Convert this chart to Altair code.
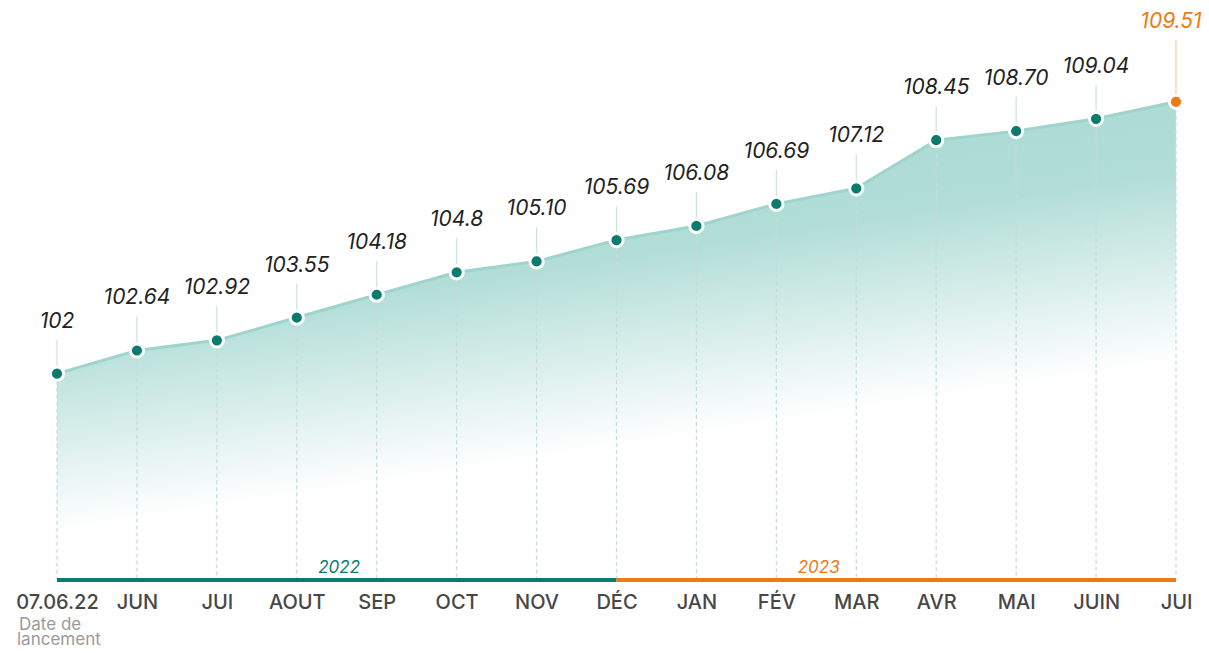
import altair as alt
import pandas as pd

months = ["07.06.22", "JUN", "JUI", "AOUT", "SEP", "OCT", "NOV", "DÉC",
          "JAN", "FÉV", "MAR", "AVR", "MAI", "JUIN", "JUI"]
values = [102, 102.64, 102.92, 103.55, 104.18, 104.8, 105.10, 105.69,
          106.08, 106.69, 107.12, 108.45, 108.70, 109.04, 109.51]
value_labels = ["102", "102.64", "102.92", "103.55", "104.18", "104.8", "105.10",
                "105.69", "106.08", "106.69", "107.12", "108.45", "108.70",
                "109.04", "109.51"]
years = ["2022", "2023"]
year_start = [0, 7]
year_end = [7, 14]
year_label_pos = [3.53, 9.53]
launch_text = ["Date de", "lancement"]

TEAL = "#0b7b6d"
ORANGE = "#ee7a14"
W, H = 1119, 562
YMIN = 96.3
YMAX = YMIN + H / 36.2

df = pd.DataFrame({
    "i": list(range(len(values))),
    "v": values,
    "lab": value_labels,
    "kind": ["past"] * (len(values) - 1) + ["latest"],
})
ydf = pd.DataFrame({"year": years, "s": year_start, "e": year_end, "p": year_label_pos})

label_js = "[" + ",".join("'" + m + "'" for m in months) + "][datum.value]"

xscale = alt.Scale(domain=[0, 14], nice=False, zero=False)
xaxis = alt.Axis(values=list(range(15)), labelExpr=label_js, title=None,
                 grid=False, ticks=False, domain=False, labelFlush=False,
                 labelOverlap=False, labelPadding=12, labelFontSize=20,
                 labelFont="Inter", labelFontWeight=500, labelColor="#474747")
x = alt.X("i:Q", scale=xscale, axis=xaxis)
y = alt.Y("v:Q", scale=alt.Scale(domain=[YMIN, YMAX], nice=False, zero=False), axis=None)

base = alt.Chart(df)

grad = alt.Gradient(
    gradient="linear", x1=0, y1=0, x2=0.357, y2=1,
    stops=[alt.GradientStop(color="#9cd3cc", offset=0),
           alt.GradientStop(color="#b3ded8", offset=0.45),
           alt.GradientStop(color="#ffffff", offset=0.8),
           alt.GradientStop(color="#ffffff", offset=1)])

area = base.mark_area(fill=grad, opacity=1).encode(x=x, y=y, y2=alt.Y2(datum=YMIN))

drops = base.mark_rule(strokeDash=[4, 3], strokeWidth=1.2, color="#c4dcd9").encode(
    x=x, y=y, y2=alt.Y2(datum=YMIN))

line = base.mark_line(color="#9ed4cd", strokeWidth=3).encode(x=x, y=y)

conn_past = base.transform_filter("datum.kind == 'past'").mark_rule(
    color="#cbe3df", strokeWidth=1.2, y2Offset=-34).encode(x=x, y=y, y2="v:Q")
conn_last = base.transform_filter("datum.kind == 'latest'").mark_rule(
    color="#f7cba4", strokeWidth=1.2, y2Offset=-62).encode(x=x, y=y, y2="v:Q")

color_kind = alt.Color("kind:N", scale=alt.Scale(domain=["past", "latest"], range=[TEAL, ORANGE]),
                       legend=None)

points = base.mark_point(filled=True, shape="circle", size=175, stroke="white",
                         strokeWidth=3, opacity=1, strokeOpacity=1, fillOpacity=1).encode(
    x=x, y=y, fill=color_kind)

lab_past = base.transform_filter("datum.kind == 'past'").mark_text(
    font="Inter", fontStyle="italic", fontSize=21, color="#222222", dy=-52,
    baseline="middle").encode(x=x, y=y, text="lab:N")
lab_last = base.transform_filter("datum.kind == 'latest'").mark_text(
    font="Inter", fontStyle="italic", fontSize=21, color=ORANGE, dy=-80, dx=-5,
    baseline="middle").encode(x=x, y=y, text="lab:N")

ycol = alt.Color("year:N", scale=alt.Scale(domain=years, range=[TEAL, ORANGE]), legend=None)

baseline = alt.Chart(ydf).mark_rule(strokeWidth=4).encode(
    x=alt.X("s:Q", scale=xscale, axis=xaxis), x2="e:Q", y=alt.value(H), color=ycol)

year_text = alt.Chart(ydf).mark_text(font="Inter", fontStyle="italic", fontSize=17,
                                     baseline="alphabetic").encode(
    x=alt.X("p:Q", scale=xscale, axis=xaxis),
    y=alt.value(H - 7), text="year:N", color=ycol)

launch1 = alt.Chart(pd.DataFrame({"t": [launch_text[0]]})).mark_text(
    font="Inter", fontSize=17, color="#9a9a9a", align="left", baseline="alphabetic"
).encode(x=alt.value(-38), y=alt.value(H + 50), text="t:N")
launch2 = alt.Chart(pd.DataFrame({"t": [launch_text[1]]})).mark_text(
    font="Inter", fontSize=17, color="#9a9a9a", align="left", baseline="alphabetic"
).encode(x=alt.value(-40), y=alt.value(H + 65), text="t:N")

chart = alt.layer(area, drops, line, conn_past, conn_last, baseline, year_text,
                  points, lab_past, lab_last, launch1, launch2).resolve_scale(
    color="independent").properties(
    width=W, height=H,
    padding={"left": 49, "top": 10, "right": 25, "bottom": 65},
    autosize=alt.AutoSizeParams(type="none"),
    background="white",
).configure_view(stroke=None)

chart.save("out.html", embed_options={"renderer": "svg", "actions": False})
